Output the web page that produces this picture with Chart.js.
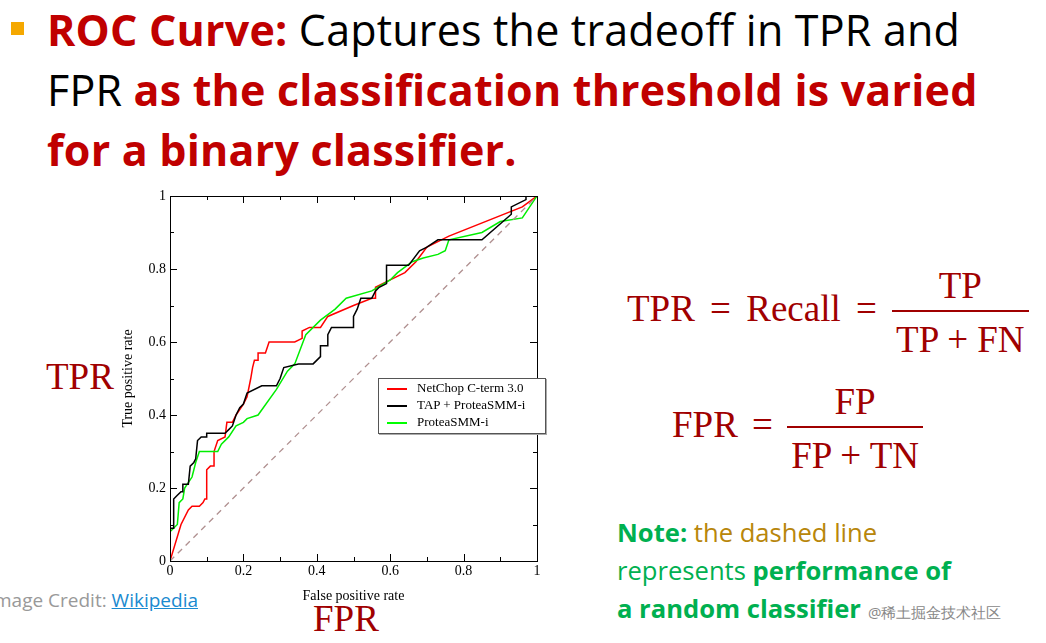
<!DOCTYPE html>
<html><head><meta charset="utf-8">
<script src="https://cdn.jsdelivr.net/npm/chart.js@4"></script>
<style>
body{margin:0;width:1046px;height:643px;background:#fff;position:relative;overflow:hidden;font-family:"Open Sans",sans-serif}
.t{position:absolute;white-space:nowrap}
.h{font-size:43px;color:#000;left:47px;letter-spacing:0.2px}
.r{color:#c00000;font-weight:bold}
.f{font-family:"Liberation Serif","DejaVu Serif",serif;color:#a00000;font-size:37px}
.frac{display:inline-block;vertical-align:middle;text-align:center;line-height:48px;word-spacing:0}
.frac span{display:block;padding:0 4px}
.frac .n{border-bottom:2px solid #a00000;margin-bottom:4px}
#leg{position:absolute;left:378px;top:378px;width:166px;height:54px;border:1px solid #555;background:#fff;font-family:"Liberation Serif",serif;font-size:13px;box-shadow:1px 1px 0 #aaa}
#leg div{height:17px;line-height:17px;padding-left:8px}
#leg i{display:inline-block;width:20px;height:0;border-top:2px solid;vertical-align:middle;margin-right:10px}
</style></head><body>
<div class="t" style="left:11px;top:22px;width:13px;height:13px;background:#f5a800"></div>
<div class="t h" style="top:0px"><span class="r">ROC Curve:</span> Captures the tradeoff in TPR and</div>
<div class="t h" style="top:60px">FPR <span class="r">as the classification threshold is varied</span></div>
<div class="t h" style="top:120px"><span class="r">for a binary classifier.</span></div>
<div class="t f" style="left:46px;top:355px">TPR</div>
<div class="t f" style="left:313px;top:597px">FPR</div>
<div class="t" style="left:-6px;top:587px;font-size:19px;color:#999">mage Credit: <span style="color:#1a8ad0;text-decoration:underline">Wikipedia</span></div>
<div class="t f" style="left:627px;top:262px;word-spacing:6px">TPR = Recall = <span class="frac"><span class="n">TP</span><span>TP + FN</span></span></div>
<div class="t f" style="left:672px;top:378px;word-spacing:5px">FPR = <span class="frac"><span class="n">FP</span><span>FP + TN</span></span></div>
<div class="t" style="left:617px;top:514px;font-size:25.6px;line-height:38px">
<span style="color:#00b050;font-weight:bold">Note:</span> <span style="color:#b8860b">the dashed line</span><br>
<span style="color:#00b050">represents </span><span style="color:#00b050;font-weight:bold">performance of<br>a random classifier</span></div>
<div class="t" style="left:868px;top:602px;font-size:15px;color:#888">@稀土掘金技术社区</div>
<canvas id="c" style="position:absolute;left:120px;top:185px;width:430px;height:420px"></canvas>
<div id="leg">
<div><i style="border-color:#f00"></i>NetChop C-term 3.0</div>
<div><i style="border-color:#000"></i>TAP + ProteaSMM-i</div>
<div><i style="border-color:#0f0"></i>ProteaSMM-i</div>
</div>
<script>
const seriesNames=["NetChop C-term 3.0","TAP + ProteaSMM-i","ProteaSMM-i"];
const netchopFPR=[0,0.03,0.05,0.06,0.08,0.09,0.095,0.1,0.1,0.11,0.12,0.12,0.13,0.15,0.155,0.17,0.18,0.2,0.21,0.22,0.225,0.23,0.24,0.24,0.26,0.27,0.34,0.36,0.36,0.38,0.41,0.43,0.5,0.55,0.56,0.56,0.6,0.64,0.67,0.7,0.76,0.96,1];
const netchopTPR=[0,0.1,0.14,0.15,0.15,0.16,0.17,0.17,0.25,0.26,0.26,0.3,0.33,0.34,0.38,0.38,0.4,0.43,0.45,0.5,0.53,0.55,0.55,0.57,0.57,0.6,0.6,0.61,0.63,0.64,0.64,0.67,0.7,0.72,0.72,0.75,0.77,0.79,0.82,0.86,0.89,0.97,1];
const tapFPR=[0,0,0.01,0.01,0.02,0.03,0.035,0.035,0.05,0.055,0.065,0.07,0.075,0.085,0.1,0.1,0.15,0.16,0.17,0.18,0.19,0.2,0.21,0.25,0.29,0.3,0.31,0.35,0.39,0.41,0.41,0.43,0.43,0.44,0.5,0.5,0.51,0.52,0.55,0.56,0.57,0.59,0.59,0.65,0.68,0.7,0.73,0.85,0.93,0.93,0.97,0.97,1];
const tapTPR=[0,0.09,0.09,0.17,0.18,0.19,0.19,0.21,0.21,0.26,0.27,0.28,0.33,0.34,0.34,0.35,0.35,0.36,0.37,0.4,0.42,0.43,0.46,0.48,0.48,0.5,0.53,0.54,0.54,0.56,0.59,0.59,0.62,0.64,0.64,0.67,0.69,0.72,0.72,0.74,0.75,0.76,0.81,0.81,0.85,0.86,0.88,0.88,0.95,0.97,0.99,1,1];
const smmFPR=[0,0,0.02,0.025,0.035,0.04,0.06,0.065,0.07,0.08,0.13,0.14,0.16,0.18,0.2,0.21,0.24,0.29,0.32,0.34,0.37,0.41,0.45,0.48,0.55,0.6,0.62,0.66,0.69,0.73,0.75,0.76,0.85,0.9,0.96,1];
const smmTPR=[0,0.08,0.1,0.16,0.17,0.2,0.23,0.25,0.27,0.3,0.3,0.32,0.34,0.37,0.38,0.39,0.4,0.47,0.52,0.54,0.62,0.66,0.69,0.72,0.74,0.77,0.79,0.82,0.83,0.84,0.85,0.88,0.9,0.93,0.94,1];
const randomLine=[0,1];
const ticks=[0,0.2,0.4,0.6,0.8,1];
const pts=(x,y)=>x.map((v,i)=>({x:v,y:y[i]}));
const sfont={family:"Liberation Serif",size:14};
new Chart(document.getElementById('c'),{type:'scatter',
data:{datasets:[
{label:'random',data:pts(randomLine,randomLine),showLine:true,borderColor:'#b09090',borderDash:[6,5],borderWidth:1.3,pointRadius:0},
{label:seriesNames[1],data:pts(tapFPR,tapTPR),showLine:true,borderColor:'#000',borderWidth:1.5,pointRadius:0},
{label:seriesNames[2],data:pts(smmFPR,smmTPR),showLine:true,borderColor:'#00ee00',borderWidth:1.5,pointRadius:0},
{label:seriesNames[0],data:pts(netchopFPR,netchopTPR),showLine:true,borderColor:'#f00',borderWidth:1.5,pointRadius:0}
]},
options:{animation:false,responsive:false,devicePixelRatio:1,
layout:{padding:{top:11,right:13}},
plugins:{legend:{display:false},tooltip:{enabled:false}},
scales:{
x:{type:'linear',min:0,max:1,afterFit:s=>{s.height=44},afterBuildTicks:s=>{s.ticks=ticks.map(v=>({value:v}))},ticks:{color:'#000',font:sfont,padding:0,callback:v=>String(v)},grid:{display:true,drawOnChartArea:false,tickLength:2,color:'rgba(0,0,0,0)'},border:{color:'#000',width:1},title:{display:true,text:'False positive rate',color:'#000',font:sfont,padding:{top:-3,bottom:0}}},
y:{type:'linear',min:0,max:1,afterFit:s=>{s.width=50},afterBuildTicks:s=>{s.ticks=ticks.map(v=>({value:v}))},ticks:{color:'#000',font:sfont,padding:2,callback:v=>String(v)},grid:{display:true,drawOnChartArea:false,tickLength:2,color:'rgba(0,0,0,0)'},border:{color:'#000',width:1},title:{display:true,text:'True positive rate',color:'#000',font:sfont,padding:0}}
}},
plugins:[{id:'frame',afterDraw(c){const a=c.chartArea,x=c.ctx,sx=c.scales.x,sy=c.scales.y;x.save();x.strokeStyle='#000';x.lineWidth=1;x.strokeRect(a.left+.5,a.top+.5,a.width,a.height);
for(let i=0;i<=10;i++){const v=i/10,L=i%2?4:7,px=Math.round(sx.getPixelForValue(v))+.5,py=Math.round(sy.getPixelForValue(v))+.5;x.beginPath();x.moveTo(px,a.bottom);x.lineTo(px,a.bottom-L);x.moveTo(px,a.top);x.lineTo(px,a.top+L);x.moveTo(a.left,py);x.lineTo(a.left+L,py);x.moveTo(a.right,py);x.lineTo(a.right-L,py);x.stroke();}
x.restore();}}]
});
</script></body></html>
